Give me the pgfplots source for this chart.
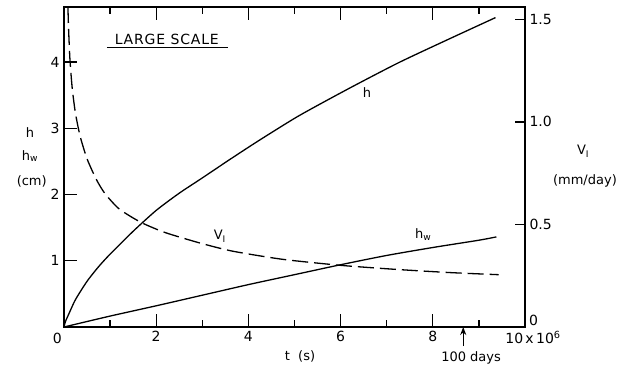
\documentclass[border=0pt]{standalone}
\usepackage{fontspec}
\setmainfont{DejaVu Sans}
\usepackage{pgfplots}
\pgfplotsset{compat=1.18}
\usetikzlibrary{arrows.meta}
\begin{document}
\fontsize{13}{15}\selectfont
\begin{tikzpicture}
\begin{axis}[
  scale only axis, width=461pt, height=320pt,
  xmin=0, xmax=10, ymin=0, ymax=4.83,
  axis line style={line width=1.6pt},
  tick style={line width=1.3pt, black},
  tick align=inside,
  xtick={2,4,6,8}, minor xtick={1,3,5,7,9},
  ytick={1,2,3,4},
  major tick length=13pt, minor tick length=7pt,
  xtick pos=both, ytick pos=left,
  /pgf/number format/assume math mode=true,
  ticklabel style={font=\fontsize{14}{14}\selectfont},
  clip=false,
]
\coordinate (SW) at (rel axis cs:0,0);
\coordinate (NE) at (rel axis cs:1,1);
\addplot[black, line width=1.3pt, smooth, tension=0.4] coordinates {
(0,0) (0.03,0.08) (0.1,0.19) (0.25,0.415) (0.5,0.69) (0.75,0.91) (1,1.10)
(1.5,1.445) (2,1.76) (2.5,2.02) (3,2.25) (3.6,2.53) (4.24,2.82)
(5.1,3.19) (6.18,3.60) (7.26,3.99) (8.3,4.33) (9.36,4.67)};
\addplot[black, line width=1.3pt, smooth, tension=0.4] coordinates {
(0,0) (1,0.165) (2,0.32) (3,0.48) (4,0.64) (5,0.79) (6,0.94) (7,1.08)
(8,1.20) (9,1.31) (9.38,1.36)};
% labels
\node[font=\fontsize{14}{14}\selectfont\addfontfeature{LetterSpace=6}] at (axis cs:2.23,4.34) {LARGE SCALE};
\draw[line width=1.2pt] (axis cs:0.93,4.22) -- (axis cs:3.56,4.22);
\node at (axis cs:6.57,3.54) {h};
\node at (axis cs:7.79,1.40) {h\textsubscript{w}};
\node at (axis cs:3.38,1.37) {V\textsubscript{I}};
\node at (axis cs:-0.74,2.94) {h};
\node at (axis cs:-0.74,2.58) {h\textsubscript{w}};
\node at (axis cs:-0.70,2.20) {(cm)};
\node at (axis cs:11.26,2.65) {V\textsubscript{I}};
\node at (axis cs:11.30,2.20) {(mm/day)};
\node at (axis cs:5.12,-0.45) {t~~(s)};
\node at (axis cs:8.83,-0.47) {100 days};
\draw[line width=1.3pt, -{Stealth[length=8pt,width=6pt]}] (axis cs:8.66,-0.29) -- (axis cs:8.66,0);
\node[font=\fontsize{14}{14}\selectfont, anchor=north east, inner sep=1pt] at ([xshift=-1pt,yshift=-5pt]axis cs:0,0) {0};
\node[font=\fontsize{14}{14}\selectfont, anchor=north, inner sep=1pt] at ([xshift=8pt,yshift=-3pt]axis cs:10,0) {10\,x\,10\textsuperscript{6}};
\node[font=\fontsize{14}{14}\selectfont, anchor=south west, inner sep=1pt] at ([xshift=3pt,yshift=0pt]axis cs:10,0) {0};
\end{axis}
\begin{axis}[
  scale only axis, width=461pt, height=320pt,
  xmin=0, xmax=10, ymin=0, ymax=1.56,
  hide x axis,
  axis y line*=right,
  axis line style={line width=1.6pt},
  tick style={line width=1.3pt, black},
  tick align=inside,
  major tick length=10pt,
  ytick={0.5,1,1.5}, yticklabels={0.5,1.0,1.5},
  /pgf/number format/assume math mode=true,
  ticklabel style={font=\fontsize{14}{14}\selectfont},
  clip=false,
]
\addplot[black, line width=1.3pt, smooth, tension=0.4, dash pattern=on 16pt off 6pt] coordinates {
(0.085,1.56) (0.1,1.45) (0.13,1.30) (0.18,1.16) (0.25,1.04) (0.35,0.93) (0.5,0.82)
(0.7,0.72) (0.89,0.65) (1.2,0.575) (1.67,0.51) (2.2,0.46) (2.94,0.41) (3.65,0.37)
(4.74,0.33) (6.03,0.30) (7.26,0.28) (8.4,0.265) (9.43,0.255)};
\end{axis}
\pgfresetboundingbox
\path[use as bounding box] ([xshift=-64pt,yshift=-43pt]SW) rectangle ([xshift=114pt,yshift=7pt]NE);
\end{tikzpicture}
\end{document}
